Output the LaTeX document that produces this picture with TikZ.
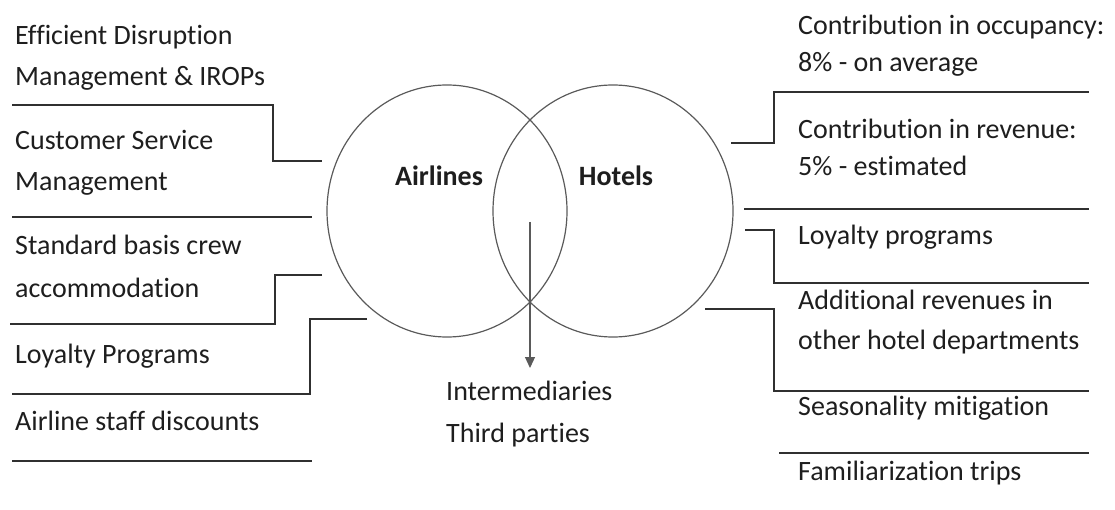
\documentclass[tikz,border=0pt]{standalone}
\usepackage{fontspec}
\setmainfont{Carlito}[Ligatures={NoCommon}]
\usetikzlibrary{arrows.meta}
\definecolor{txt}{HTML}{1E1E1E}
\definecolor{ln}{HTML}{303030}
\definecolor{circ}{HTML}{5A5A5A}
\tikzset{
  lbl/.style={anchor=mid west, inner sep=0pt, yshift=-5pt, font=\fontsize{28}{32}\selectfont, text=txt},
  title/.style={anchor=center, inner sep=0pt, yshift=-3pt, font=\fontsize{28}{32}\selectfont\bfseries, text=txt},
  sep/.style={draw=ln, line width=1.3pt},
  venn/.style={draw=circ, line width=1.2pt},
  arr/.style={draw=circ, line width=1.2pt, -{Triangle[length=11pt,width=10pt]}}
}
\begin{document}
\begin{tikzpicture}[x=1pt,y=-1pt]
\useasboundingbox (0,0) rectangle (1115,510);
% Venn
\draw[venn] (447,211) ellipse [x radius=120, y radius=126];
\draw[venn] (613,211) ellipse [x radius=120, y radius=126];
\node[title] (air) at (439,173) {Airlines};
\node[title] (hot) at (616,173) {Hotels};
\coordinate (arrs) at (530,222);
\node[lbl] (int) at (446,393) {Intermediaries};
\node[lbl] (thp) at (446,435) {Third parties};
\draw[arr] (arrs) -- (530,368);
% Left texts
\node[lbl] (l1a) at (15,37) {Efficient Disruption};
\node[lbl] (l1b) at (15,78) {Management \& IROPs};
\node[lbl] (l2a) at (15,142) {Customer Service};
\node[lbl] (l2b) at (15,183) {Management};
\node[lbl] (l3a) at (15,247) {Standard basis crew};
\node[lbl] (l3b) at (15,290) {accommodation};
\node[lbl] (l4) at (15,356) {Loyalty Programs};
\node[lbl] (l5) at (15,423) {Airline staff discounts};
% Left lines
\draw[sep] (12,105) -- (273,105) -- (273,161) -- (322,161);
\draw[sep] (12,217) -- (312,217);
\draw[sep] (322,275) -- (275,275) -- (275,324) -- (10,324);
\draw[sep] (367,319) -- (310,319) -- (310,394) -- (12,394);
\draw[sep] (12,461) -- (312,461);
% Right texts
\node[lbl] (r1a) at (798,27) {Contribution in occupancy:};
\node[lbl] (r1b) at (798,64) {8\% - on average};
\node[lbl] (r2a) at (798,131) {Contribution in revenue:};
\node[lbl] (r2b) at (798,168) {5\% - estimated};
\node[lbl] (r3) at (798,237) {Loyalty programs};
\node[lbl] (r4a) at (798,302) {Additional revenues in};
\node[lbl] (r4b) at (798,342) {other hotel departments};
\node[lbl] (r5) at (798,408) {Seasonality mitigation};
\node[lbl] (r6) at (798,473) {Familiarization trips};
% Right lines
\draw[sep] (731,143) -- (774,143) -- (774,92) -- (1089,92);
\draw[sep] (744,209) -- (1089,209);
\draw[sep] (745,230) -- (774,230) -- (774,283) -- (1089,283);
\draw[sep] (705,309) -- (774,309) -- (774,391) -- (1089,391);
\draw[sep] (779,453) -- (1089,453);
\end{tikzpicture}
\end{document}
